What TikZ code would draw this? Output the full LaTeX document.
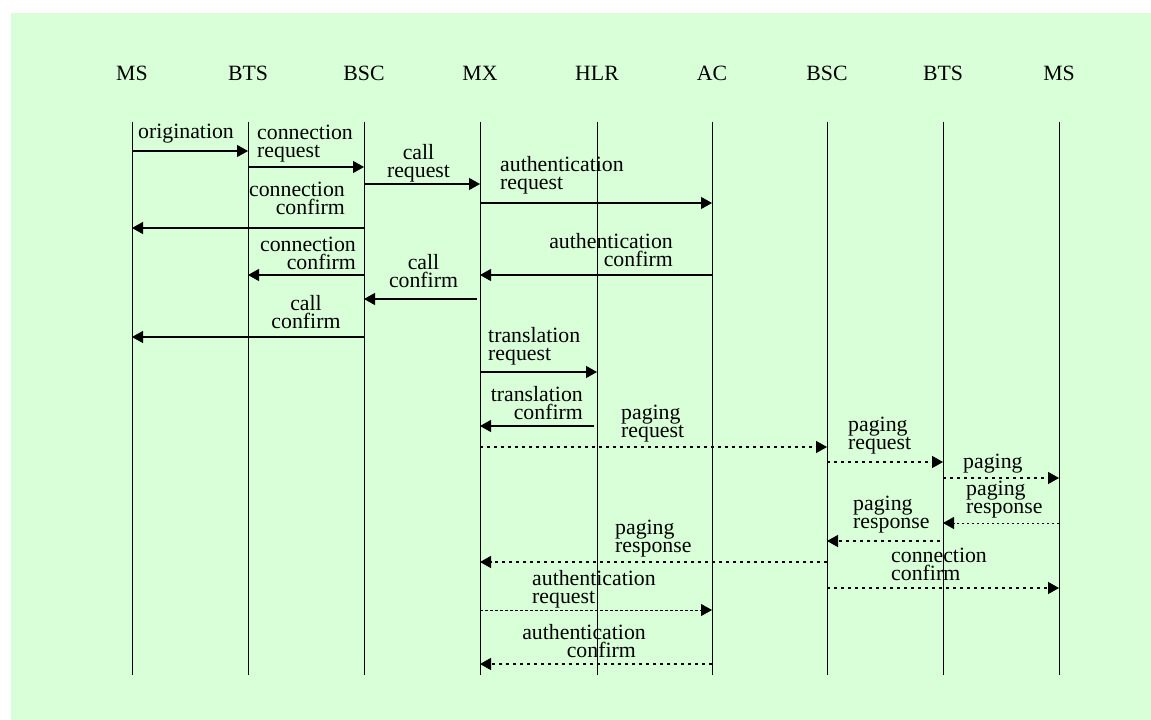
\documentclass[tikz,border=0pt]{standalone}
\usepackage{fontspec}
\setmainfont{Liberation Serif}
\usetikzlibrary{arrows.meta}
\definecolor{panel}{RGB}{217,255,217}
\begin{document}
\begin{tikzpicture}[x=1pt,y=-1pt,
  every node/.style={inner sep=0pt, font=\fontsize{21.8}{17.6}\selectfont},
  life/.style={line width=1pt},
  tip/.style={-{Triangle[length=11pt,width=12pt]}},
  msg/.style={tip, line width=1.2pt},
  async/.style={tip, line width=1.4pt, dash pattern=on 3pt off 4pt},
  fine/.style={tip, line width=0.9pt, dash pattern=on 2.5pt off 2.5pt},
  lab/.style={anchor=base west, align=left},
  labr/.style={anchor=base east, align=right},
  labc/.style={anchor=base, align=center}]
\useasboundingbox (0,0) rectangle (1151,720);
\fill[panel] (11,13) rectangle (1151,720);

% participants and their lifelines
\foreach \n/\x/\t in {ms1/132/MS, bts1/248/BTS, bsc1/364/BSC, mx/480/MX,
    hlr/597/HLR, ac/712/AC, bsc2/827/BSC, bts2/943/BTS, ms2/1059/MS}{
  \node[anchor=base] (\n) at (\x,80) {\t};
  \coordinate (\n-top) at (\x,122);
  \coordinate (\n-bot) at (\x,675);
  \draw[life] (\n-top) -- (\n-bot);
}

% call origination (labels are anchored on the baseline of their last line)
\draw[msg] (ms1-top |- 0,151) -- (bts1-top |- 0,151);
\node[lab] (l1) at (138,138) {origination};
\draw[msg] (bts1-top |- 0,167) -- (bsc1-top |- 0,167);
\node[lab] (l2) at (257,157) {connection\\request};
\draw[msg] (bsc1-top |- 0,184) -- (mx-top |- 0,184);
\node[labc] (l3) at (418.5,177) {call\\request};
\draw[msg] (mx-top |- 0,203) -- (ac-top |- 0,203);
\node[lab] (l4) at (500,189) {authentication\\request};
\draw[msg] (bsc1-top |- 0,228) -- (ms1-top |- 0,228);
\node[labr] (l5) at (345,214) {connection\\confirm};
\draw[msg] (ac-top |- 0,275) -- (mx-top |- 0,275);
\node[labr] (l6) at (673,266) {authentication\\confirm};
\draw[msg] (bsc1-top |- 0,275) -- (bts1-top |- 0,275);
\node[labr] (l7) at (356,269) {connection\\confirm};
\draw[msg, shorten <=3pt] (mx-top |- 0,299) -- (bsc1-top |- 0,299);
\node[labc] (l8) at (423.5,287) {call\\confirm};
\draw[msg] (bsc1-top |- 0,337) -- (ms1-top |- 0,337);
\node[labc] (l9) at (306,328) {call\\confirm};

% number translation
\draw[msg] (mx-top |- 0,372) -- (hlr-top |- 0,372);
\node[lab] (l10) at (488,360) {translation\\request};
\draw[msg, shorten <=3pt] (hlr-top |- 0,426) -- (mx-top |- 0,426);
\node[labr] (l11) at (583,419) {translation\\confirm};

% paging of the called party
\draw[async] (mx-top |- 0,447) -- (bsc2-top |- 0,447);
\node[lab] (l12) at (621,437) {paging\\request};
\draw[async] (bsc2-top |- 0,462) -- (bts2-top |- 0,462);
\node[lab] (l13) at (848,449) {paging\\request};
\draw[async] (bts2-top |- 0,478) -- (ms2-top |- 0,478);
\node[lab] (l14) at (963,468) {paging};
\draw[fine] (ms2-top |- 0,523) -- (bts2-top |- 0,523);
\node[lab] (l15) at (966,513) {paging\\response};
\draw[async, shorten <=3pt] (bts2-top |- 0,541) -- (bsc2-top |- 0,541);
\node[lab] (l16) at (853,528) {paging\\response};
\draw[async] (bsc2-top |- 0,562) -- (mx-top |- 0,562);
\node[lab] (l17) at (615,552) {paging\\response};
\draw[async] (bsc2-top |- 0,588) -- (ms2-top |- 0,588);
\node[lab] (l18) at (891,580) {connection\\confirm};

% authentication of the called party
\draw[fine] (mx-top |- 0,610) -- (ac-top |- 0,610);
\node[lab] (l19) at (532,603) {authentication\\request};
\draw[async] (ac-top |- 0,664) -- (mx-top |- 0,664);
\node[labr] (l20) at (646,657) {authentication\\confirm\hspace*{10pt}};
\end{tikzpicture}
\end{document}
